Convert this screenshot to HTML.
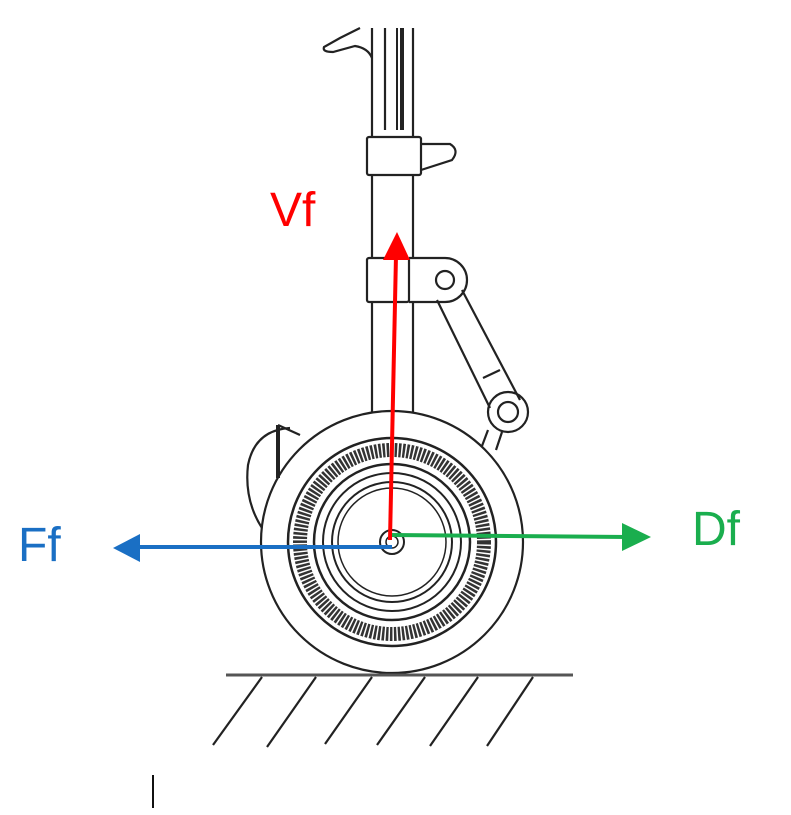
<!DOCTYPE html>
<html><head><style>
html,body{margin:0;padding:0;background:#fff;}
svg{display:block}
text{font-family:"Liberation Sans",sans-serif;font-size:48px}
</style></head><body>
<svg width="791" height="815" viewBox="0 0 791 815" xmlns="http://www.w3.org/2000/svg">
<g fill="none" stroke="#222" stroke-width="2.2">
  <line x1="372" y1="28" x2="372" y2="137"/>
  <line x1="413" y1="28" x2="413" y2="137"/>
  <line x1="385" y1="28" x2="385" y2="130"/>
  <line x1="397" y1="28" x2="397" y2="130" stroke-width="2"/>
  <line x1="402" y1="28" x2="402" y2="130" stroke-width="4"/>
  <path d="M372 58 Q368 48 355 46 L333 52 Q322 52 324 47 L340 38 L360 28"/>
  <rect x="367" y="137" width="54" height="38" rx="2"/>
  <path d="M421 144 L450 144 Q460 150 452 160 L421 170"/>
  <line x1="372" y1="175" x2="372" y2="258"/>
  <line x1="413" y1="175" x2="413" y2="258"/>
  <rect x="367" y="258" width="42" height="44" rx="2"/>
  <path d="M409 258 L445 258 A22 22 0 0 1 445 302 L409 302"/>
  <circle cx="445" cy="280" r="9"/>
  <line x1="437" y1="300" x2="490" y2="408"/>
  <line x1="462" y1="290" x2="520" y2="400"/>
  <line x1="483" y1="378" x2="500" y2="370"/>
  <circle cx="508" cy="412" r="20"/>
  <circle cx="508" cy="412" r="10"/>
  <path d="M488 430 L482 446 M502 432 L496 450"/>
  <line x1="372" y1="302" x2="372" y2="412"/>
  <line x1="413" y1="302" x2="413" y2="412"/>
  <path d="M290 428 Q255 430 248 465 Q244 500 262 528"/>
  <line x1="278" y1="425" x2="278" y2="478" stroke-width="4"/>
  <path d="M278 425 L300 435"/>
  <circle cx="392" cy="542" r="131"/>
  <circle cx="392" cy="542" r="104" stroke-width="2.5"/>
  <circle cx="392" cy="542" r="92" stroke-width="14" stroke="#333" stroke-dasharray="2.5 1.5"/>
  <circle cx="392" cy="542" r="78" stroke-width="2.5"/>
  <circle cx="392" cy="542" r="69" stroke-width="2"/>
  <circle cx="392" cy="542" r="60" stroke-width="2"/>
  <circle cx="392" cy="542" r="54" stroke-width="1.5"/>
  <circle cx="392" cy="542" r="12" stroke-width="2"/>
  <circle cx="392" cy="542" r="6" stroke-width="1.5"/>
  <line x1="226" y1="675" x2="573" y2="675" stroke="#555" stroke-width="3"/>
  <line x1="213" y1="745" x2="262" y2="677"/>
  <line x1="267" y1="747" x2="316" y2="677"/>
  <line x1="325" y1="744" x2="372" y2="677"/>
  <line x1="377" y1="745" x2="425" y2="677"/>
  <line x1="430" y1="746" x2="478" y2="677"/>
  <line x1="487" y1="746" x2="533" y2="677"/>
  <line x1="153" y1="775" x2="153" y2="808" stroke="#111" stroke-width="2"/>
</g>
<line x1="390" y1="540" x2="396" y2="255" stroke="#f00" stroke-width="4"/>
<polygon points="397,232 383,260 410,260" fill="#f00"/>
<line x1="392" y1="547" x2="135" y2="547" stroke="#1a6fc4" stroke-width="4"/>
<polygon points="113,548 140,534 140,562" fill="#1a6fc4"/>
<line x1="392" y1="535" x2="628" y2="537" stroke="#1aae4e" stroke-width="4"/>
<polygon points="651,537 622,523 622,551" fill="#1aae4e"/>
<text x="270" y="226" fill="#f00">Vf</text>
<text x="18" y="561" fill="#1a6fc4">Ff</text>
<text x="692" y="545" fill="#1aae4e">Df</text>
</svg>
</body></html>
